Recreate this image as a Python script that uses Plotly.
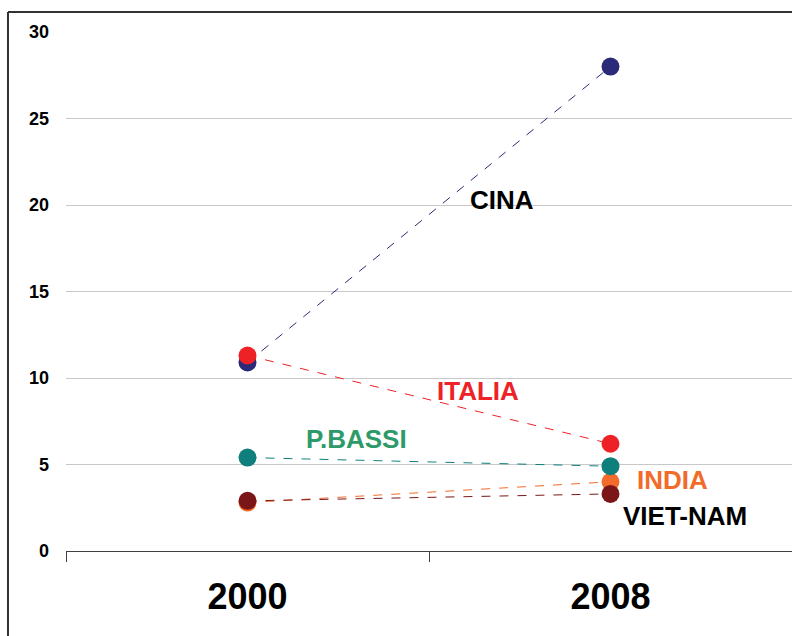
import plotly.graph_objects as go

years = ["2000", "2008"]
series_names = ["CINA", "ITALIA", "INDIA", "P.BASSI", "VIET-NAM"]
cina = [10.9, 28.0]
italia = [11.3, 6.2]
india = [2.8, 4.0]
pbassi = [5.4, 4.9]
vietnam = [2.9, 3.3]
y_ticks = [0, 5, 10, 15, 20, 25, 30]

values = {"CINA": cina, "ITALIA": italia, "INDIA": india, "P.BASSI": pbassi, "VIET-NAM": vietnam}
colors = {"CINA": "#2a2a78", "ITALIA": "#ee2226", "INDIA": "#f26b2a", "P.BASSI": "#0e7f7c", "VIET-NAM": "#7a1618"}
label_colors = {"CINA": "#000000", "ITALIA": "#ee2226", "INDIA": "#f26b2a", "P.BASSI": "#2e9a6a", "VIET-NAM": "#000000"}
label_pos = {"CINA": (0.70, 20.3), "ITALIA": (0.636, 9.25), "P.BASSI": (0.30, 6.5),
             "INDIA": (1.17, 4.1), "VIET-NAM": (1.204, 2.05)}

FONT = "Liberation Sans, Arial, sans-serif"
fig = go.Figure()
for name in series_names:
    fig.add_trace(go.Scatter(
        x=years, y=values[name], mode="lines+markers", name=name,
        line=dict(color=colors[name], width=1, dash="dash"),
        marker=dict(color=colors[name], size=18),
        showlegend=False, cliponaxis=False,
    ))

for name in series_names:
    x, y = label_pos[name]
    fig.add_annotation(x=x, y=y, text=name, showarrow=False,
                       font=dict(family=FONT, size=26, weight="bold", color=label_colors[name]))

# outer frame (left and top edges visible, the rest is cropped)
fig.add_shape(type="line", xref="paper", yref="paper",
              x0=-0.0799, x1=-0.0799, y0=-0.3, y1=1.0385,
              line=dict(color="#333333", width=2))
fig.add_shape(type="line", xref="paper", yref="paper",
              x0=-0.0799, x1=1.1, y0=1.0385, y1=1.0385,
              line=dict(color="#333333", width=2))

fig.update_layout(
    width=792, height=636,
    margin=dict(l=66, r=0, t=32, b=85),
    paper_bgcolor="white", plot_bgcolor="white",
    font=dict(family=FONT, color="#000000"),
    xaxis=dict(type="category", range=[-0.5, 1.5], tickson="boundaries",
               ticks="outside", ticklen=10, tickcolor="#404040", tickwidth=1,
               showline=True, linecolor="#404040", linewidth=1,
               showgrid=False, tickfont=dict(size=36, family=FONT, weight="bold"),
               ticklabelstandoff=14),
    yaxis=dict(range=[0, 30], tickvals=y_ticks, showgrid=True, gridcolor="#c8c8c8",
               gridwidth=1, zeroline=False, showline=False, ticks="",
               tickfont=dict(size=18, family=FONT, weight="bold"), ticklabelstandoff=16),
)

fig.write_html("out.html")
